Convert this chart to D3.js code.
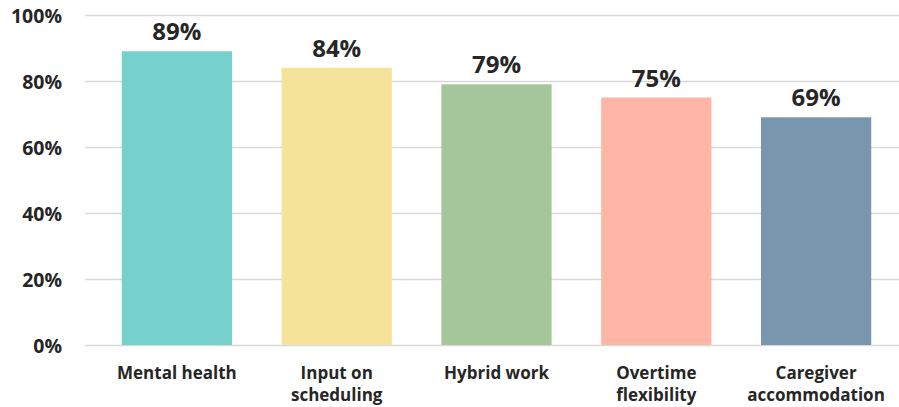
<!DOCTYPE html>
<html>
<head>
<meta charset="utf-8">
<script src="https://cdn.jsdelivr.net/npm/d3@7"></script>
<style>
  html, body { margin: 0; padding: 0; background: #fff; }
  svg { display: block; }
  text { font-family: "Open Sans", Lato, sans-serif; font-weight: 700; fill: #262626; }
</style>
</head>
<body>
<svg id="chart" width="899" height="407"></svg>
<script>
// Share of respondents citing each support type
const categories = ["Mental health", "Input on scheduling", "Hybrid work", "Overtime flexibility", "Caregiver accommodation"];
const categoryLines = [["Mental health"], ["Input on", "scheduling"], ["Hybrid work"], ["Overtime", "flexibility"], ["Caregiver", "accommodation"]];
const values = [89, 84, 79, 75, 69];
const colors = ["#76D0CC", "#F6E39A", "#A5C69B", "#FFB6A7", "#7896AD"];
const tickValues = [0, 20, 40, 60, 80, 100];

const width = 899, height = 407;
const svg = d3.select("#chart");

const x = d3.scaleBand()
  .domain(categories)
  .range([97, 896])
  .paddingInner(0.31)
  .paddingOuter(0.155);

const y = d3.scaleLinear().domain([0, 100]).range([345, 15]);

// Gridlines
const grid = svg.append("g")
  .attr("transform", "translate(85,0)")
  .call(d3.axisLeft(y).tickValues(tickValues).tickSize(-(width - 85)).tickFormat(""));
grid.select(".domain").remove();
grid.selectAll(".tick line").attr("stroke", "#d9d9d9").attr("stroke-width", 1.5);

// Y axis labels
const yAxis = svg.append("g")
  .attr("transform", "translate(62,0)")
  .call(d3.axisLeft(y).tickValues(tickValues).tickSize(0).tickPadding(0).tickFormat(d => d + "%"));
yAxis.select(".domain").remove();
yAxis.selectAll(".tick text")
  .attr("font-size", 19.5)
  .attr("dy", "0.36em")
  .style("font-family", "'Open Sans', sans-serif")
  .style("font-weight", 700)
  .attr("fill", "#262626");

// Bars
svg.append("g").selectAll("rect")
  .data(values)
  .join("rect")
  .attr("x", (d, i) => x(categories[i]))
  .attr("width", x.bandwidth())
  .attr("y", d => y(d))
  .attr("height", d => y(0) - y(d))
  .attr("fill", (d, i) => colors[i]);

// Value labels
svg.append("g").selectAll("text")
  .data(values)
  .join("text")
  .attr("x", (d, i) => x(categories[i]) + x.bandwidth() / 2)
  .attr("y", d => y(d) - 11)
  .attr("text-anchor", "middle")
  .attr("font-size", 24)
  .text(d => d + "%");

// Category labels
const cat = svg.append("g").selectAll("text")
  .data(categories)
  .join("text")
  .attr("x", d => x(d) + x.bandwidth() / 2)
  .attr("y", 379)
  .attr("text-anchor", "middle")
  .attr("font-size", 17);
cat.each(function(d, i) {
  const t = d3.select(this);
  categoryLines[i].forEach((line, j) => {
    t.append("tspan")
      .attr("x", x(d) + x.bandwidth() / 2)
      .attr("dy", j === 0 ? 0 : 22)
      .text(line);
  });
});
</script>
</body>
</html>
